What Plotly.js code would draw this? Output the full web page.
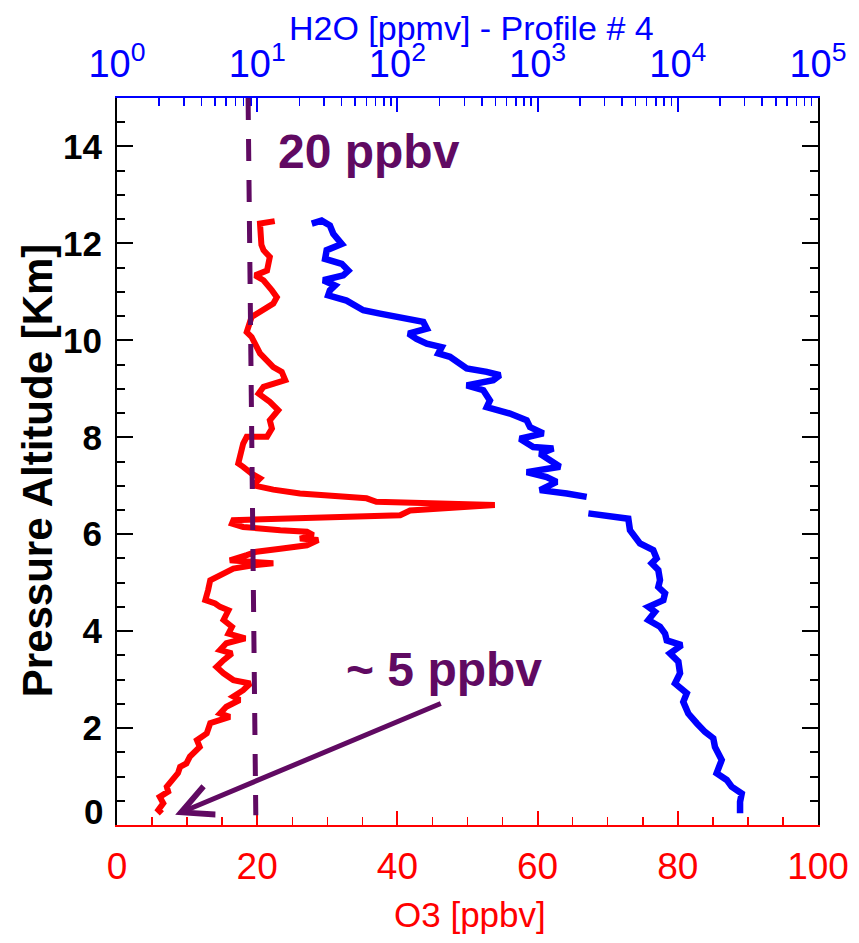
<!DOCTYPE html>
<html>
<head>
<meta charset="utf-8">
<script src="https://cdn.plot.ly/plotly-3.0.1.min.js"></script>
<style>html,body{margin:0;padding:0;background:#fff;}#chart{width:859px;height:943px;}</style>
</head>
<body>
<div id="chart"></div>
<script>
// O3 profile (ppbv) vs pressure altitude (km)
const o3_ppbv = [22.5,20.4,20.6,20.9,21.8,21.4,19.7,20.9,22.1,22.8,22.3,20.9,19.2,18.5,19.2,20.4,22.3,23.5,24.0,20.9,20.2,21.8,23.0,21.8,22.1,21.4,18.5,18.0,17.3,18.0,19.2,20.4,19.4,22.3,26.1,35.6,37.0,53.9,41.8,40.4,30.9,21.4,16.6,16.4,18.0,23.3,27.1,28.0,26.1,28.7,27.1,23.3,19.9,18.5,16.1,22.3,19.4,16.6,14.2,13.3,13.0,12.6,14.0,14.7,15.9,15.2,16.4,15.9,18.3,15.6,14.7,16.4,15.2,14.2,15.2,16.6,19.0,18.0,16.6,17.5,15.6,14.7,16.1,13.3,12.8,11.4,11.8,10.4,9.9,9.0,8.7,7.8,7.1,7.3,6.1,6.6,5.9,6.4];
const o3_alt_km = [12.46,12.41,11.97,11.86,11.72,11.44,11.34,11.24,11.03,10.89,10.76,10.62,10.48,10.17,10.07,9.73,9.45,9.35,9.18,9.04,8.90,8.73,8.56,8.35,8.18,8.01,8.01,7.87,7.46,7.39,7.25,7.15,7.01,6.92,6.84,6.74,6.67,6.60,6.49,6.39,6.36,6.32,6.29,6.22,6.15,6.08,6.05,5.98,5.91,5.88,5.77,5.70,5.64,5.57,5.46,5.40,5.36,5.29,5.12,5.05,4.85,4.64,4.57,4.50,4.43,4.23,4.09,3.95,3.85,3.75,3.61,3.54,3.40,3.26,3.13,2.99,2.92,2.78,2.65,2.58,2.44,2.30,2.23,2.10,1.89,1.75,1.61,1.41,1.27,1.20,1.07,0.89,0.79,0.69,0.58,0.45,0.31,0.24];

// H2O profile (ppmv) vs pressure altitude (km); null marks the data gap
const h2o_ppmv = [24.5,28.8,33.0,34.9,40.1,31.3,30.5,40.1,44.7,41.1,29.6,35.9,33.0,32.1,43.4,57.1,75.2,98.9,153,162,120,137,162,207,196,237,280,312,434,540,483,312,410,457,434,635,836,883,1099,748,931,1294,1040,1227,1445,836,1161,1368,1040,1614,2239,null,2301,3664,4436,4560,5370,6683,7063,6516,7261,7464,7261,8110,7889,6166,6871,6166,7464,8110,8337,10666,8790,10093,10375,9550,11588,10940,11885,13646,15631,17906,18408,20560,18923,22336,24210,28576,27797,27797];
const h2o_alt_km = [12.41,12.47,12.37,12.20,11.99,11.86,11.68,11.58,11.44,11.34,11.24,11.13,11.03,10.93,10.82,10.62,10.55,10.48,10.38,10.24,10.14,10.03,9.93,9.86,9.73,9.66,9.52,9.42,9.35,9.28,9.18,9.07,8.97,8.76,8.62,8.49,8.35,8.21,8.08,7.97,7.80,7.77,7.66,7.53,7.39,7.28,7.18,7.08,6.91,6.84,6.77,null,6.43,6.37,6.32,6.08,5.81,5.67,5.50,5.40,5.26,5.05,4.91,4.78,4.64,4.50,4.40,4.23,4.09,3.95,3.81,3.71,3.54,3.37,3.13,2.92,2.72,2.54,2.30,2.10,1.92,1.79,1.61,1.34,1.07,0.93,0.79,0.65,0.48,0.24];

// Axis ticks / labels
const altTicks = [0,2,4,6,8,10,12,14];
const altTickText = ['','2','4','6','8','10','12','14'];
const o3Ticks = [0,20,40,60,80,100];
const h2oTicks = [1,10,100,1000,10000,100000];
const h2oTickText = ['10<sup>0</sup>','10<sup>1</sup>','10<sup>2</sup>','10<sup>3</sup>','10<sup>4</sup>','10<sup>5</sup>'];

// Reference line and annotation values
const refLineO3 = [18.7, 19.8];
const refLineAlt = [15, 0.2];
const arrowTip = {o3: 8.3, alt: 0.21};
const arrowTail = {o3: 46.4, alt: 2.52};

const h2oMinor = [];
for (let d = 0; d < 5; d++) for (let k = 2; k <= 9; k++) h2oMinor.push(k * Math.pow(10, d));

const SANS = "'Liberation Sans', Arial, sans-serif";
const RED = '#ff0000', BLUE = '#0000ff', PURPLE = '#600a62';

const traces = [
  {x: o3_ppbv, y: o3_alt_km, type: 'scatter', mode: 'lines', xaxis: 'x', yaxis: 'y',
   line: {color: RED, width: 6}, connectgaps: false, hoverinfo: 'skip'},
  {x: h2o_ppmv, y: h2o_alt_km, type: 'scatter', mode: 'lines', xaxis: 'x2', yaxis: 'y',
   line: {color: BLUE, width: 6.5}, connectgaps: false, hoverinfo: 'skip'}
];

const layout = {
  width: 859, height: 943,
  margin: {l: 117, r: 41, t: 98, b: 118},
  paper_bgcolor: '#fff', plot_bgcolor: '#fff',
  showlegend: false,
  xaxis: {
    range: [0, 100], tickvals: o3Ticks, ticks: 'inside', ticklen: 14, tickwidth: 2, tickcolor: RED,
    showline: true, linecolor: RED, linewidth: 2, showgrid: false, zeroline: false,
    tickfont: {family: SANS, size: 37, color: RED},
    minor: {dtick: 5, ticks: 'inside', ticklen: 8, tickwidth: 1.5, tickcolor: RED, showgrid: false},
    ticklabelstandoff: 8
  },
  xaxis2: {
    type: 'log', range: [0, 5], overlaying: 'x', side: 'top', anchor: 'y',
    tickvals: h2oTicks, ticktext: h2oTickText, ticks: 'inside', ticklen: 14, tickwidth: 2, tickcolor: BLUE,
    showline: true, linecolor: BLUE, linewidth: 2, showgrid: false, zeroline: false,
    tickfont: {family: SANS, size: 38, color: BLUE},
    minor: {tickvals: h2oMinor, ticks: 'inside', ticklen: 8, tickwidth: 1.5, tickcolor: BLUE, showgrid: false},
    ticklabelstandoff: 4
  },
  yaxis: {
    range: [0, 15], tickvals: altTicks, ticktext: altTickText, ticks: 'inside', ticklen: 16, tickwidth: 2,
    tickcolor: '#000', showline: true, linecolor: '#000', linewidth: 2, mirror: 'ticks',
    showgrid: false, zeroline: false,
    tickfont: {family: SANS, size: 35, color: '#000', weight: 'bold'},
    minor: {dtick: 0.5, ticks: 'inside', ticklen: 8, tickwidth: 2, tickcolor: '#000', showgrid: false},
    ticklabelstandoff: 6
  },
  shapes: [
    {type: 'line', xref: 'x', yref: 'y', x0: refLineO3[0], y0: refLineAlt[0], x1: refLineO3[1], y1: refLineAlt[1],
     line: {color: PURPLE, width: 5, dash: '22px,19px'}}
  ],
  annotations: [
    {text: 'H2O [ppmv] - Profile # 4', xref: 'paper', yref: 'paper', x: 0.505, y: 1, yshift: 70,
     xanchor: 'center', yanchor: 'middle', showarrow: false, font: {family: SANS, size: 34, color: BLUE}},
    {text: 'O3 [ppbv]', xref: 'paper', yref: 'paper', x: 0.503, y: 0, yshift: -89,
     xanchor: 'center', yanchor: 'middle', showarrow: false, font: {family: SANS, size: 35, color: RED}},
    {text: 'Pressure Altitude [Km]', xref: 'paper', yref: 'paper', x: 0, xshift: -80, y: 0.488,
     xanchor: 'center', yanchor: 'middle', textangle: -90, showarrow: false,
     font: {family: SANS, size: 42, color: '#000', weight: 'bold'}},
    {text: '0', xref: 'paper', yref: 'y', x: 0, xshift: -24, y: 0.27, xanchor: 'center', yanchor: 'middle',
     showarrow: false, font: {family: SANS, size: 35, color: '#000', weight: 'bold'}},
    {text: '20 ppbv', xref: 'x', yref: 'y', x: 35.9, y: 13.9, xanchor: 'center', yanchor: 'middle',
     showarrow: false, font: {family: SANS, size: 48, color: PURPLE, weight: 'bold'}},
    {text: '~ 5 ppbv', xref: 'x', yref: 'y', x: 46.7, y: 3.2, xanchor: 'center', yanchor: 'middle',
     showarrow: false, font: {family: SANS, size: 48, color: PURPLE, weight: 'bold'}},
    {text: '', xref: 'x', yref: 'y', x: arrowTip.o3, y: arrowTip.alt, axref: 'x', ayref: 'y',
     ax: arrowTail.o3, ay: arrowTail.alt, showarrow: true, arrowhead: 5, arrowsize: 1.2, arrowwidth: 5,
     arrowcolor: PURPLE, standoff: 0, startstandoff: 0}
  ]
};

Plotly.newPlot('chart', traces, layout, {displayModeBar: false, staticPlot: true});
</script>
</body>
</html>
